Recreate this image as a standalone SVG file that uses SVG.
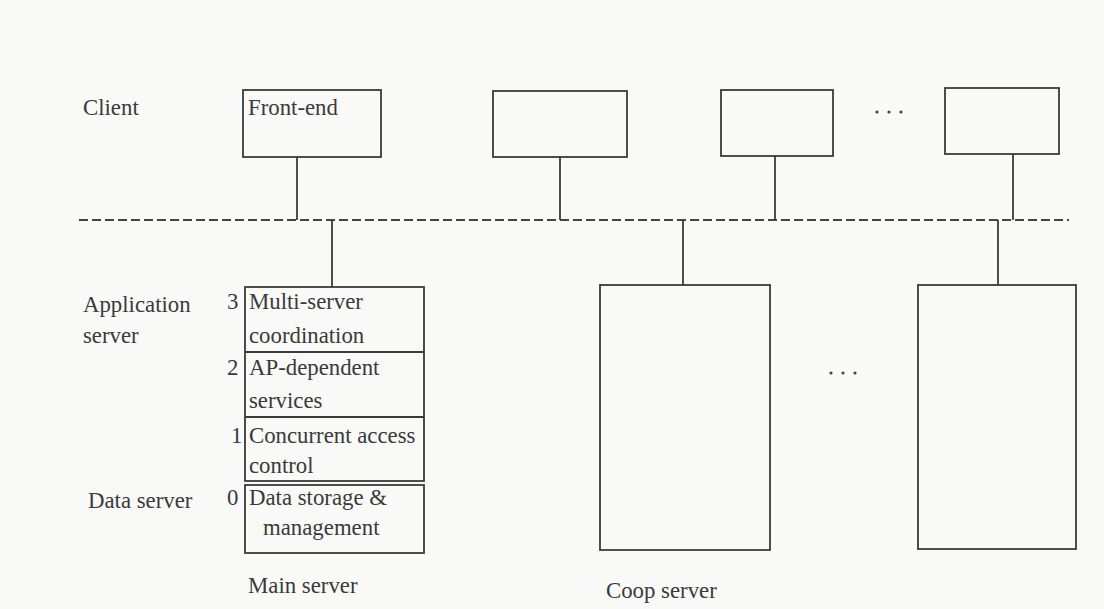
<svg xmlns="http://www.w3.org/2000/svg" width="1104" height="609" viewBox="0 0 1104 609">
  <style>
    .bg { fill: #f9f9f7; }
    .box { fill: none; stroke: #3a3a3a; stroke-width: 1.8; }
    .wire { stroke: #3a3a3a; stroke-width: 1.8; fill: none; }
    .bus { stroke: #444; stroke-width: 2; stroke-dasharray: 9 4; fill: none; }
    .t { font-family: "Liberation Serif", "Times New Roman", serif; font-size: 22.8px; fill: #3a3a3a; }
    .dot { fill: #444; }
  </style>
  <rect class="bg" x="0" y="0" width="1104" height="609"/>

  <!-- tier labels -->
  <g id="tier-labels">
    <text class="t" x="83" y="115">Client</text>
    <text class="t" x="83" y="312">Application</text>
    <text class="t" x="83" y="343">server</text>
    <text class="t" x="88" y="508">Data server</text>
  </g>

  <!-- client front-ends -->
  <g id="client-frontend">
    <rect class="box" x="243" y="90" width="138" height="67"/>
    <text class="t" x="248" y="115">Front-end</text>
  </g>
  <g id="client-2">
    <rect class="box" x="493" y="91" width="134" height="66"/>
  </g>
  <g id="client-3">
    <rect class="box" x="721" y="90" width="112" height="66"/>
  </g>
  <g id="client-n">
    <rect class="box" x="945" y="88" width="114" height="66"/>
  </g>
  <g id="client-ellipsis">
    <circle class="dot" cx="877" cy="112" r="1.6"/>
    <circle class="dot" cx="889" cy="112" r="1.6"/>
    <circle class="dot" cx="901" cy="112" r="1.6"/>
  </g>

  <!-- main server: layered stack -->
  <g id="main-server">
    <rect class="box" x="245" y="287" width="179" height="194"/>
    <line class="wire" x1="245" y1="352" x2="424" y2="352"/>
    <line class="wire" x1="245" y1="417" x2="424" y2="417"/>
    <rect class="box" x="245" y="485" width="179" height="68"/>
    <text class="t" x="227" y="309">3</text>
    <text class="t" x="249" y="309">Multi-server</text>
    <text class="t" x="249" y="343">coordination</text>
    <text class="t" x="227" y="375">2</text>
    <text class="t" x="249" y="375">AP-dependent</text>
    <text class="t" x="249" y="408">services</text>
    <text class="t" x="231" y="443">1</text>
    <text class="t" x="249" y="443">Concurrent access</text>
    <text class="t" x="249" y="473">control</text>
    <text class="t" x="227" y="505">0</text>
    <text class="t" x="249" y="505">Data storage &amp;</text>
    <text class="t" x="263" y="535">management</text>
    <text class="t" x="248" y="593">Main server</text>
  </g>

  <!-- cooperating servers -->
  <g id="coop-server">
    <rect class="box" x="600" y="285" width="170" height="265"/>
    <text class="t" x="606" y="598">Coop server</text>
  </g>
  <g id="coop-server-n">
    <rect class="box" x="918" y="285" width="158" height="264"/>
  </g>
  <g id="server-ellipsis">
    <circle class="dot" cx="831" cy="373" r="1.6"/>
    <circle class="dot" cx="843" cy="373" r="1.6"/>
    <circle class="dot" cx="855" cy="373" r="1.6"/>
  </g>

  <!-- network bus and drops -->
  <g id="connectors">
    <line class="bus" x1="79" y1="220" x2="1069" y2="220"/>
    <line class="wire" x1="297" y1="157" x2="297" y2="220"/>
    <line class="wire" x1="560" y1="157" x2="560" y2="220"/>
    <line class="wire" x1="775" y1="156" x2="775" y2="220"/>
    <line class="wire" x1="1013" y1="154" x2="1013" y2="220"/>
    <line class="wire" x1="332" y1="220" x2="332" y2="287"/>
    <line class="wire" x1="683" y1="220" x2="683" y2="285"/>
    <line class="wire" x1="998" y1="220" x2="998" y2="285"/>
  </g>
</svg>
